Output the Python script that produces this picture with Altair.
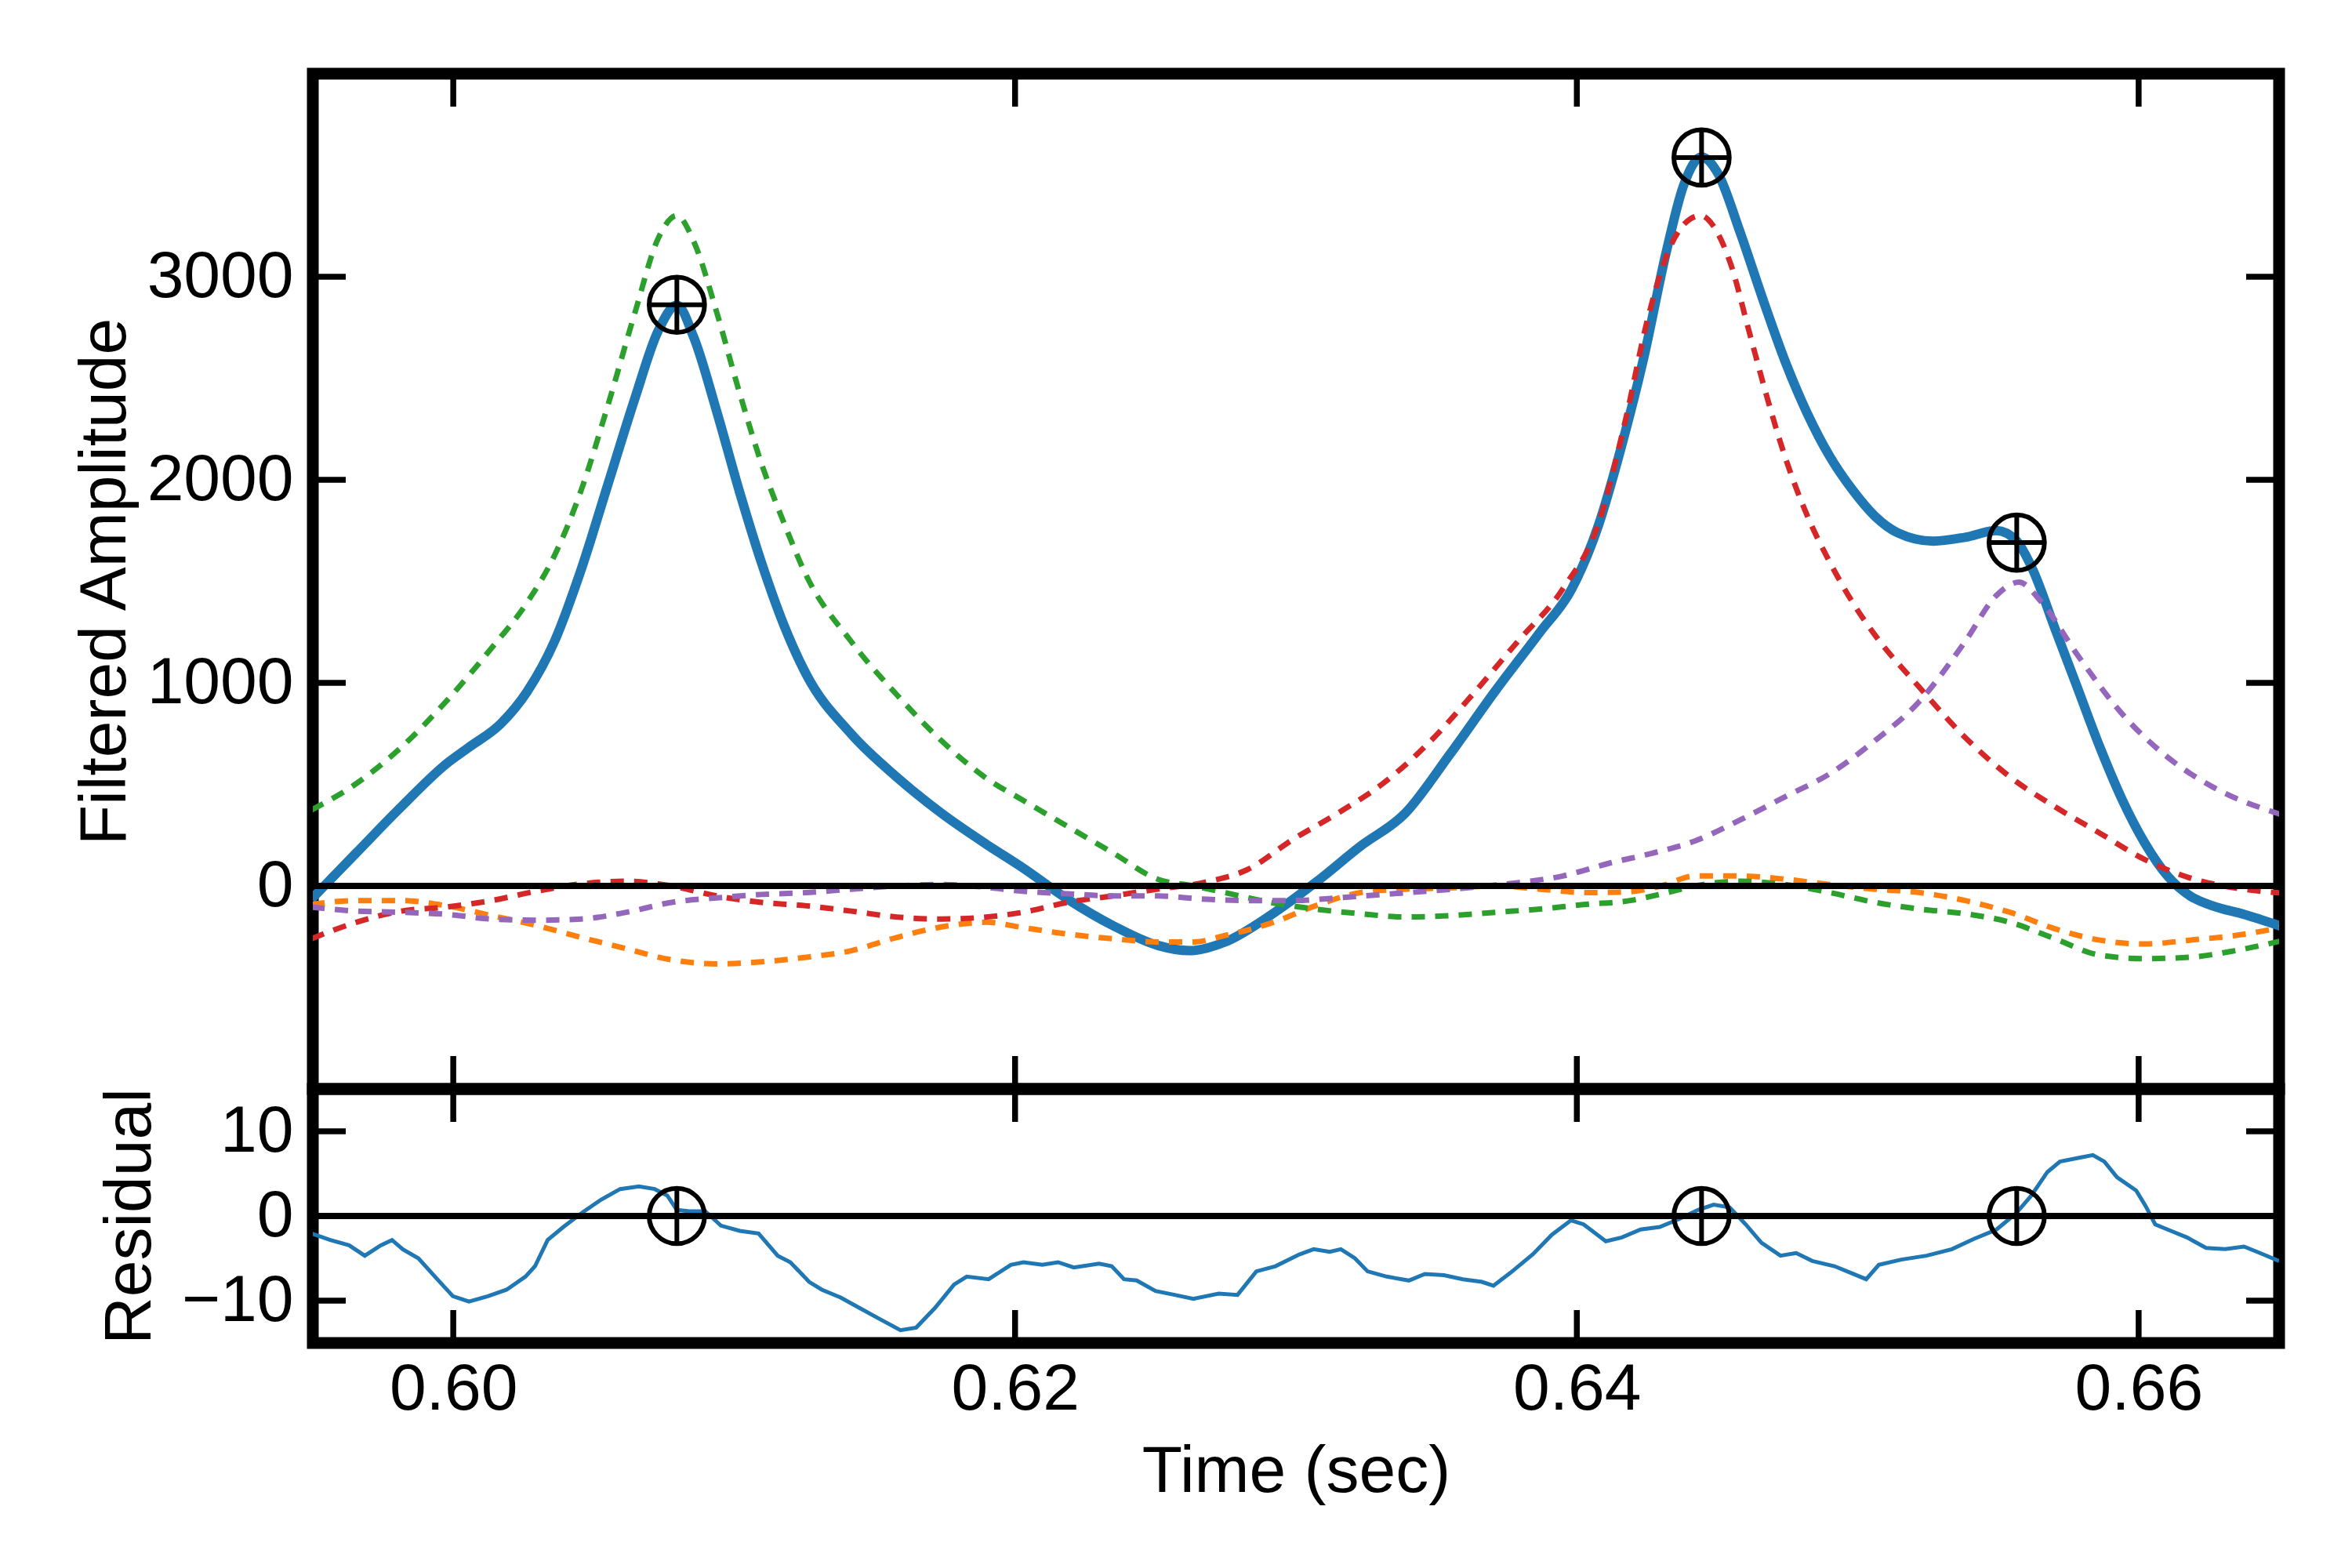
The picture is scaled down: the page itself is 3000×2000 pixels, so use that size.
import altair as alt
import pandas as pd

# ---------------- data ----------------
t_total = [0.59495, 0.59655, 0.59815, 0.59976, 0.60056, 0.60168, 0.60264, 0.60360, 0.60456, 0.60552,
           0.60648, 0.60729, 0.60796, 0.60857, 0.60937, 0.61017, 0.61097, 0.61177, 0.61257, 0.61417,
           0.61578, 0.61738, 0.61898, 0.62027, 0.62187, 0.62348, 0.62508, 0.62620, 0.62748, 0.62908,
           0.63069, 0.63229, 0.63389, 0.63549, 0.63709, 0.63870, 0.63982, 0.64078, 0.64158, 0.64238,
           0.64318, 0.64380, 0.64444, 0.64501, 0.64581, 0.64661, 0.64741, 0.64821, 0.64901, 0.64981,
           0.65061, 0.65141, 0.65269, 0.65382, 0.65494, 0.65566, 0.65622, 0.65702, 0.65782, 0.65862,
           0.65942, 0.66022, 0.66103, 0.66183, 0.66263, 0.66375, 0.66510]
v_total = [-65, 163, 390, 602, 683, 797, 959, 1203, 1561, 1984,
           2407, 2732, 2860, 2699, 2341, 1951, 1593, 1285, 1041, 748,
           537, 358, 205, 90, -65, -195, -293, -319, -276, -146,
           16, 195, 358, 650, 959, 1252, 1463, 1780, 2160, 2600,
           3120, 3450, 3590, 3512, 3220, 2894, 2585, 2325, 2114, 1951,
           1821, 1740, 1698, 1717, 1750, 1698, 1561, 1268, 976, 683,
           423, 211, 49, -49, -98, -140, -200]

# component 1 (orange)
t_c1 = [0.59495, 0.59655, 0.59815, 0.59976, 0.60136, 0.60296, 0.60456, 0.60616, 0.60777, 0.60937,
        0.61097, 0.61257, 0.61417, 0.61578, 0.61738, 0.61898, 0.62027, 0.62187, 0.62348, 0.62508,
        0.62636, 0.62748, 0.62908, 0.63069, 0.63229, 0.63389, 0.63549, 0.63709, 0.63870, 0.64030,
        0.64170, 0.64300, 0.64420, 0.64581, 0.64741, 0.64901, 0.65061, 0.65221, 0.65382, 0.65542,
        0.65702, 0.65862, 0.66022, 0.66183, 0.66343, 0.66510]
v_c1 = [-91, -72, -72, -98, -146, -195, -254, -309, -364, -384,
        -374, -351, -319, -254, -202, -179, -205, -237, -260, -276,
        -276, -244, -185, -98, -33, -16, -10, 0, -16, -33,
        -30, 0, 49, 49, 33, 7, -16, -33, -72, -130,
        -211, -267, -286, -267, -244, -205]

# component 2 (green)
t_c2 = [0.59495, 0.59655, 0.59815, 0.59976, 0.60136, 0.60264, 0.60360, 0.60456, 0.60552, 0.60648,
        0.60729, 0.60796, 0.60857, 0.60937, 0.61017, 0.61097, 0.61177, 0.61257, 0.61417, 0.61578,
        0.61738, 0.61898, 0.62027, 0.62187, 0.62348, 0.62508, 0.62636, 0.62748, 0.62908, 0.63069,
        0.63229, 0.63389, 0.63549, 0.63709, 0.63870, 0.64030, 0.64190, 0.64300, 0.64420, 0.64581,
        0.64741, 0.64901, 0.65061, 0.65221, 0.65382, 0.65542, 0.65702, 0.65862, 0.66022, 0.66183,
        0.66343, 0.66510]
v_c2 = [374, 504, 683, 911, 1171, 1398, 1626, 1951, 2374, 2829,
        3187, 3301, 3171, 2829, 2439, 2081, 1789, 1528, 1203, 943,
        715, 530, 423, 293, 163, 33, 0, -33, -81, -114,
        -137, -153, -146, -130, -114, -91, -72, -40, 0, 23,
        7, -33, -81, -114, -137, -179, -260, -341, -358, -351,
        -319, -270]

# component 3 (red)
t_c3 = [0.59495, 0.59655, 0.59815, 0.59976, 0.60136, 0.60296, 0.60456, 0.60616, 0.60777, 0.60937,
        0.61097, 0.61257, 0.61417, 0.61578, 0.61738, 0.61898, 0.62027, 0.62187, 0.62348, 0.62508,
        0.62668, 0.62828, 0.62988, 0.63149, 0.63309, 0.63469, 0.63629, 0.63789, 0.63950, 0.64078,
        0.64174, 0.64250, 0.64330, 0.64404, 0.64441, 0.64485, 0.64549, 0.64613, 0.64677, 0.64741,
        0.64821, 0.64901, 0.64981, 0.65061, 0.65221, 0.65382, 0.65542, 0.65702, 0.65862, 0.66022,
        0.66183, 0.66343, 0.66510]
v_c3 = [-260, -179, -124, -104, -72, -26, 10, 23, 0, -49,
        -81, -98, -124, -153, -163, -153, -130, -81, -49, -16,
        16, 81, 228, 358, 504, 699, 943, 1203, 1463, 1789,
        2300, 2780, 3140, 3285, 3301, 3252, 3057, 2732, 2407, 2114,
        1821, 1593, 1398, 1236, 976, 732, 537, 390, 260, 130,
        39, -10, -35]

# component 4 (purple)
t_c4 = [0.59495, 0.59655, 0.59815, 0.59976, 0.60136, 0.60296, 0.60456, 0.60616, 0.60777, 0.60937,
        0.61097, 0.61257, 0.61417, 0.61578, 0.61738, 0.61898, 0.62027, 0.62187, 0.62348, 0.62508,
        0.62668, 0.62828, 0.62988, 0.63149, 0.63309, 0.63469, 0.63629, 0.63789, 0.63950, 0.64110,
        0.64265, 0.64420, 0.64581, 0.64741, 0.64901, 0.65061, 0.65221, 0.65382, 0.65494, 0.65574,
        0.65654, 0.65782, 0.65942, 0.66103, 0.66263, 0.66510]
v_c4 = [-104, -124, -130, -140, -163, -169, -163, -130, -81, -59,
        -42, -33, -16, 0, 7, -7, -26, -39, -49, -49,
        -65, -72, -72, -59, -42, -26, -7, 16, 49, 110,
        160, 221, 325, 439, 553, 715, 911, 1203, 1431, 1496,
        1398, 1138, 846, 634, 488, 350]

# residual
t_res = [0.59495, 0.59562, 0.59629, 0.59685, 0.59742, 0.59782, 0.59820, 0.59876, 0.59943, 0.59999,
         0.60056, 0.60123, 0.60190, 0.60257, 0.60291, 0.60336, 0.60392, 0.60459, 0.60527, 0.60594,
         0.60661, 0.60717, 0.60762, 0.60796, 0.60841, 0.60897, 0.60953, 0.61020, 0.61087, 0.61155,
         0.61200, 0.61267, 0.61312, 0.61379, 0.61446, 0.61514, 0.61592, 0.61648, 0.61715, 0.61783,
         0.61828, 0.61906, 0.61985, 0.62030, 0.62097, 0.62153, 0.62209, 0.62299, 0.62344, 0.62388,
         0.62433, 0.62500, 0.62568, 0.62635, 0.62725, 0.62792, 0.62859, 0.62927, 0.63012, 0.63063,
         0.63120, 0.63160, 0.63210, 0.63255, 0.63323, 0.63402, 0.63459, 0.63527, 0.63594, 0.63662,
         0.63703, 0.63764, 0.63843, 0.63911, 0.63979, 0.64024, 0.64103, 0.64160, 0.64227, 0.64295,
         0.64363, 0.64431, 0.64487, 0.64544, 0.64601, 0.64657, 0.64725, 0.64781, 0.64838, 0.64917,
         0.64974, 0.65030, 0.65075, 0.65155, 0.65245, 0.65335, 0.65415, 0.65494, 0.65562, 0.65618,
         0.65675, 0.65720, 0.65788, 0.65837, 0.65878, 0.65923, 0.65991, 0.66025, 0.66059, 0.66115,
         0.66172, 0.66240, 0.66308, 0.66375, 0.66432, 0.66500]
v_res = [-2.07, -2.84, -3.46, -4.69, -3.46, -2.84, -3.92, -5.0, -7.47, -9.48,
         -10.1, -9.48, -8.7, -7.16, -5.93, -2.84, -1.30, 0.40, 1.94, 3.18,
         3.49, 3.18, 2.41, 0.71, 0.56, 0.56, -1.14, -1.76, -2.07, -4.69,
         -5.46, -7.78, -8.7, -9.63, -10.86, -12.1, -13.49, -13.18, -10.86, -8.09,
         -7.16, -7.47, -5.77, -5.46, -5.77, -5.46, -6.08, -5.62, -5.93, -7.47,
         -7.62, -8.86, -9.32, -9.78, -9.17, -9.32, -6.54, -5.93, -4.54, -3.92,
         -4.23, -3.92, -5.0, -6.54, -7.16, -7.62, -6.85, -7.0, -7.47, -7.78,
         -8.24, -6.70, -4.54, -2.22, -0.52, -0.99, -2.99, -2.53, -1.60, -1.30,
         -0.37, 0.71, 1.33, 1.02, -0.99, -3.15, -4.69, -4.38, -5.31, -5.93,
         -6.70, -7.47, -5.77, -5.15, -4.69, -3.92, -2.69, -1.60, 0.25, 2.41,
         5.19, 6.42, 6.88, 7.19, 6.42, 4.57, 3.02, 1.17, -0.99, -1.76,
         -2.53, -3.77, -3.92, -3.61, -4.38, -5.31]

# fitted peaks
t_peaks = [0.60796, 0.64444, 0.65566]
v_peaks = [2862, 3587, 1691]

x_ticks = [0.60, 0.62, 0.64, 0.66]
y_ticks_top = [0, 1000, 2000, 3000]
y_ticks_bot = [-10, 0, 10]

comp_names = ["c1", "c2", "c3", "c4"]
comp_colors = ["#ff7f0e", "#2ca02c", "#d62728", "#9467bd"]

# ---------------- tables ----------------
df_total = pd.DataFrame({"t": t_total, "v": v_total})
df_comp = pd.concat([
    pd.DataFrame({"t": t_c1, "v": v_c1, "comp": "c1"}),
    pd.DataFrame({"t": t_c2, "v": v_c2, "comp": "c2"}),
    pd.DataFrame({"t": t_c3, "v": v_c3, "comp": "c3"}),
    pd.DataFrame({"t": t_c4, "v": v_c4, "comp": "c4"}),
], ignore_index=True)
df_res = pd.DataFrame({"t": t_res, "v": v_res})
df_peaks = pd.DataFrame({"t": t_peaks, "v": v_peaks})
df_peaks_res = pd.DataFrame({"t": t_peaks, "v": [0, 0, 0]})
df_xt = pd.DataFrame({"t": x_ticks})
df_yt_top = pd.DataFrame({"v": y_ticks_top})
df_yt_bot = pd.DataFrame({"v": y_ticks_bot})
df_zero = pd.DataFrame({"v": [0]})

# ---------------- styling ----------------
W = 2508
H1 = 1295
H2 = 324
TICK = 42
TICKW = 7.5
FONT = "Liberation Sans"
FS = 84
MSIZE = 5000

xscale = alt.Scale(domain=[0.595, 0.665], nice=False, zero=False)
ytop = alt.Scale(domain=[-1000, 4000], nice=False, zero=False)
ybot = alt.Scale(domain=[-15, 15], nice=False, zero=False)

common = dict(ticks=False, tickSize=0, domain=False, grid=False,
              labelFlush=False, labelOverlap=False, labelLimit=0)
ytop_axis = alt.Axis(values=y_ticks_top, format="d", title="Filtered Amplitude",
                     labelPadding=25, titlePadding=22, **common)
ybot_axis = alt.Axis(values=y_ticks_bot, format="d", title="Residual",
                     labelPadding=25, titlePadding=22, **common)
xbot_axis = alt.Axis(values=x_ticks, format=".2f", title="Time (sec)",
                     labelPadding=18, titlePadding=22, **common)


def xenc(axis=None):
    return alt.X("t:Q", scale=xscale, axis=axis)


def tick_layers(yscale, yaxis, df_yt, height, xaxis=None):
    top_t = alt.Chart(df_xt).mark_rule(color="black", strokeWidth=TICKW).encode(
        x=xenc(xaxis), y=alt.value(0), y2=alt.value(TICK))
    bot_t = alt.Chart(df_xt).mark_rule(color="black", strokeWidth=TICKW).encode(
        x=xenc(xaxis), y=alt.value(height - TICK), y2=alt.value(height))
    left_t = alt.Chart(df_yt).mark_rule(color="black", strokeWidth=TICKW).encode(
        y=alt.Y("v:Q", scale=yscale, axis=yaxis), x=alt.value(0), x2=alt.value(TICK))
    right_t = alt.Chart(df_yt).mark_rule(color="black", strokeWidth=TICKW).encode(
        y=alt.Y("v:Q", scale=yscale, axis=yaxis), x=alt.value(W - TICK), x2=alt.value(W))
    return [top_t, bot_t, left_t, right_t]


def marker_layers(df, yscale, yaxis, xaxis=None):
    circ = alt.Chart(df).mark_point(shape="circle", filled=False, size=MSIZE, color="black",
                                    strokeWidth=6, opacity=1).encode(
        x=xenc(xaxis), y=alt.Y("v:Q", scale=yscale, axis=yaxis))
    plus = alt.Chart(df).mark_point(shape="M-1,0L1,0M0,-1L0,1", filled=False, size=MSIZE,
                                    color="black", strokeWidth=6, opacity=1).encode(
        x=xenc(xaxis), y=alt.Y("v:Q", scale=yscale, axis=yaxis))
    return [circ, plus]


# ---------------- top panel ----------------
total_line = alt.Chart(df_total).mark_line(color="#1f77b4", strokeWidth=12,
                                           interpolate="monotone", clip=True).encode(
    x=xenc(), y=alt.Y("v:Q", scale=ytop, axis=ytop_axis))

comp_lines = alt.Chart(df_comp).mark_line(strokeWidth=7, strokeDash=[17, 13],
                                          interpolate="monotone", clip=True).encode(
    x=xenc(), y=alt.Y("v:Q", scale=ytop, axis=ytop_axis),
    color=alt.Color("comp:N", scale=alt.Scale(domain=comp_names, range=comp_colors), legend=None))

zero_top = alt.Chart(df_zero).mark_rule(color="black", strokeWidth=8).encode(
    y=alt.Y("v:Q", scale=ytop, axis=ytop_axis))

top = alt.layer(
    total_line, comp_lines, zero_top,
    *tick_layers(ytop, ytop_axis, df_yt_top, H1),
    *marker_layers(df_peaks, ytop, ytop_axis),
).properties(width=W, height=H1)

# ---------------- bottom panel ----------------
res_line = alt.Chart(df_res).mark_line(color="#1f77b4", strokeWidth=5, clip=True).encode(
    x=xenc(xbot_axis), y=alt.Y("v:Q", scale=ybot, axis=ybot_axis))

zero_bot = alt.Chart(df_zero).mark_rule(color="black", strokeWidth=8).encode(
    y=alt.Y("v:Q", scale=ybot, axis=ybot_axis))

bottom = alt.layer(
    res_line, zero_bot,
    *tick_layers(ybot, ybot_axis, df_yt_bot, H2, xbot_axis),
    *marker_layers(df_peaks_res, ybot, ybot_axis, xbot_axis),
).properties(width=W, height=H2)

chart = alt.vconcat(top, bottom, spacing=0, bounds="flush").configure_view(
    stroke="black", strokeWidth=15
).configure_axis(
    labelFont=FONT, titleFont=FONT, labelFontSize=FS, titleFontSize=FS,
    titleFontWeight="normal", labelColor="black", titleColor="black"
).properties(
    padding={"left": 76, "top": 74, "right": 20, "bottom": 20},
    background="white"
)

chart.save("out.html", embed_options={"renderer": "svg", "actions": False})
